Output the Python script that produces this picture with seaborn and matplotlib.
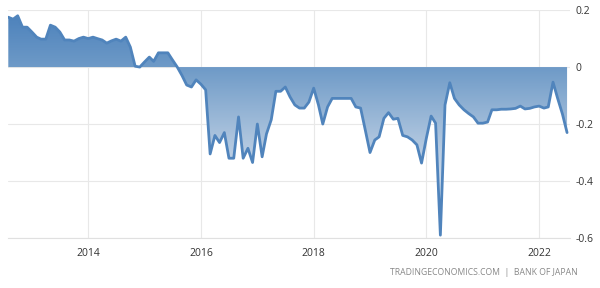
import numpy as np
import pandas as pd
import matplotlib
matplotlib.use("Agg")
import matplotlib.pyplot as plt
import matplotlib.dates as mdates
from matplotlib.colors import LinearSegmentedColormap
import seaborn as sns

start_month = "2012-08-01"
values = [
    0.175, 0.168, 0.18, 0.14, 0.14, 0.123, 0.105, 0.098, 0.098, 0.147,
    0.14, 0.123, 0.095, 0.095, 0.091, 0.1, 0.105, 0.1, 0.105, 0.1,
    0.095, 0.084, 0.092, 0.098, 0.091, 0.105, 0.07, 0.003, 0.0, 0.018,
    0.035, 0.02, 0.05, 0.05, 0.05, 0.025, 0.0, -0.03, -0.063, -0.07,
    -0.045, -0.06, -0.08, -0.305, -0.24, -0.265, -0.23, -0.32, -0.32, -0.175,
    -0.32, -0.285, -0.335, -0.2, -0.315, -0.235, -0.185, -0.085, -0.085, -0.07,
    -0.105, -0.133, -0.144, -0.144, -0.123, -0.074, -0.133, -0.2, -0.14, -0.11,
    -0.11, -0.11, -0.11, -0.11, -0.14, -0.144, -0.22, -0.30, -0.256, -0.245,
    -0.18, -0.16, -0.183, -0.18, -0.24, -0.245, -0.256, -0.273, -0.337, -0.25,
    -0.172, -0.197, -0.59, -0.133, -0.055, -0.11, -0.133, -0.15, -0.163, -0.175,
    -0.197, -0.197, -0.193, -0.15, -0.15, -0.148, -0.148, -0.147, -0.145, -0.137,
    -0.147, -0.145, -0.14, -0.137, -0.144, -0.14, -0.053, -0.11, -0.165, -0.23,
]
x_ticks = ["2014", "2016", "2018", "2020", "2022"]
y_ticks = [0.2, 0.0, -0.2, -0.4, -0.6]
y_tick_labels = ["0.2", "0", "-0.2", "-0.4", "-0.6"]
source_text = "TRADINGECONOMICS.COM  |  BANK OF JAPAN"

dates = pd.date_range(start_month, periods=len(values), freq="MS")
df = pd.DataFrame({"date": dates, "value": values})

sns.set_theme(style="white")
plt.rcParams["font.family"] = ["Open Sans", "DejaVu Sans"]

fig = plt.figure(figsize=(6.0, 2.88), dpi=100)
ax = fig.add_axes([0.0133, 0.1736, 0.9367, 0.7914])

line_color = "#5084bc"

poly = ax.fill_between(df["date"], df["value"], 0, color="none", lw=0)
x0 = mdates.date2num(pd.Timestamp("2012-08-01"))
x1 = mdates.date2num(pd.Timestamp("2022-08-05"))
grad = np.linspace(0, 1, 256).reshape(-1, 1)
cmap = LinearSegmentedColormap.from_list(
    "g", [(0.0, "#4a80bb"), (0.25, "#6e9ac7"), (0.625, "#b8cce2"), (1.0, "#eef3f9")])
im = ax.imshow(grad, extent=[x0, x1, -0.6, 0.2], origin="upper", aspect="auto",
               cmap=cmap, vmin=0, vmax=1.0, zorder=1, interpolation="bilinear")
im.set_clip_path(poly.get_paths()[0], transform=ax.transData)

sns.lineplot(data=df, x="date", y="value", ax=ax, color=line_color, lw=2.0, zorder=3)

ax.set_xlim(x0 - 2, mdates.date2num(pd.Timestamp("2022-07-20")))
ax.set_ylim(-0.6, 0.2)

ax.set_yticks(y_ticks)
ax.set_yticklabels(y_tick_labels)
ax.yaxis.tick_right()
ax.set_xticks([mdates.date2num(pd.Timestamp(f"{t}-01-01")) for t in x_ticks])
ax.set_xticklabels(x_ticks)
ax.tick_params(axis="both", length=0, labelsize=7.5, colors="#333333")
ax.tick_params(axis="y", pad=4)
ax.tick_params(axis="x", pad=7)

ax.grid(True, color="#e8e8e8", lw=0.8, zorder=0)
ax.set_axisbelow(True)
for s in ["top", "right", "left"]:
    ax.spines[s].set_visible(False)
ax.spines["bottom"].set_color("#e0e0e0")
ax.spines["bottom"].set_linewidth(0.8)
ax.set_xlabel("")
ax.set_ylabel("")

fig.text(0.963, 0.055, source_text, ha="right", va="center", fontsize=6.2, color="#888888")

fig.savefig("out.png", dpi=100)
